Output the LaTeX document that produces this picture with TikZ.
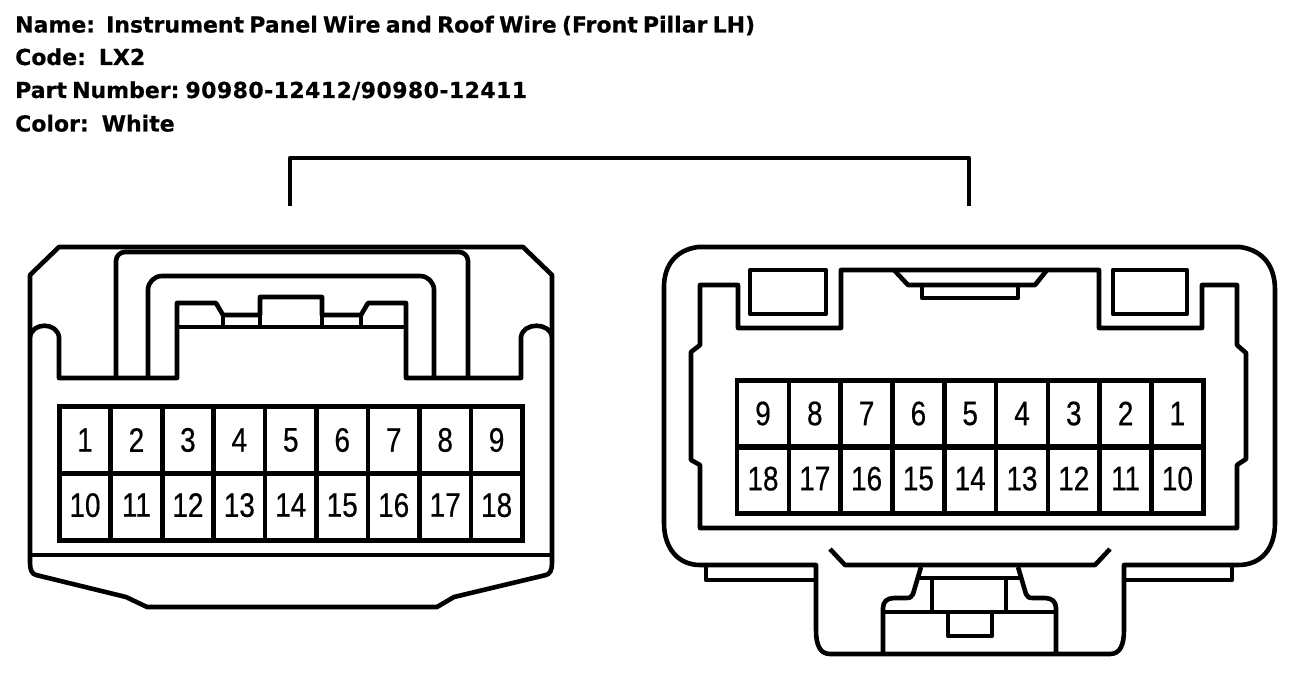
\documentclass[tikz,border=0pt]{standalone}
\usepackage{fontspec}
\setmainfont{DejaVu Sans}
\newfontfamily\pinfont[FakeStretch=0.82,FakeBold=0.5]{Liberation Sans}
\newfontfamily\infofont[FakeBold=0.5]{DejaVu Sans Bold}
\tikzset{
  part/.style={line width=4.6pt, line join=round},
  pinbox/.style={draw, line width=4.6pt, inner sep=0pt, minimum width=#1, minimum height=66.5pt,
    font=\fontsize{34}{34}\pinfont},
  lowrow/.style={text depth=4pt},
  infotext/.style={anchor=base west, inner sep=0pt, font={\fontsize{22}{22}\infofont\spaceskip=5.2pt\relax}}
}
\begin{document}
\begin{tikzpicture}[x=1pt,y=-1pt]
        \useasboundingbox (0,0) rectangle (1312,676);

        % header
        \node[infotext] (name) at (15,32.5) {Name:\hspace{11pt}Instrument Panel Wire and Roof Wire (Front Pillar LH)};
        \node[infotext] (code) at (15,65) {Code:\hspace{13pt}LX2};
        \node[infotext] (partno) at (15,98) {Part Number:\hspace{6pt}{\addfontfeatures{LetterSpace=1.9}90980-12412/90980-12411}};
        \node[infotext] (color) at (15,131.5) {Color:\hspace{13pt}White};

        % bracket between the two views
        \coordinate (bracketL) at (290,206);
        \coordinate (bracketR) at (969,206);
        \draw[part] (bracketL) -- ++(0,-48) -| (bracketR);

        % left connector
        \draw[part] (30,275) -- (59,247) -- (523,247) -- (552,275) -- (552,563)
          .. controls (552,570) and (550,574) .. (546,575) -- (454,597) -- (437,607) -- (147,607) -- (126,597)
          -- (36,575) .. controls (32,574) and (30,570) .. (30,563) -- cycle;
        \draw[part] (30,555) -- (552,555);
        \draw[part] (30,337) .. controls (32,322) and (57,322) .. (59,337) -- (59,378) -- (177,378) -- (177,303)
          -- (216,303) -- (223,315) -- (260,315) -- (260,297) -- (322,297) -- (322,315) -- (361,315) -- (368,303)
          -- (406,303) -- (406,378) -- (521,378) -- (521,337) .. controls (523,322) and (550,322) .. (552,337);
        \draw[part] (177,327) -- (406,327);
        \draw[part] (223,315) -- (223,327) (361,315) -- (361,327) (260,315) -- (260,327) (322,315) -- (322,327);
        \draw[part, rounded corners=9pt] (116,378) -- (116,252) -- (468,252) -- (468,378);
        \draw[part, rounded corners=14pt] (148,378) -- (148,276) -- (434,276) -- (434,378);
        \foreach \i in {1,...,9} {
          \node[pinbox=51.5pt] (L\i) at ({85+51.45*(\i-1)},440) {\i};
        }
        \foreach \i [evaluate=\i as \k using int(\i-9)] in {10,...,18} {
          \node[pinbox=51.5pt, lowrow] (L\i) at ({85+51.45*(\k-1)},507) {\i};
        }

        % right connector
        \draw[part] (698,247) -- (1240,247) .. controls (1262,250) and (1275,265) .. (1275,290) -- (1275,523)
          .. controls (1275,548) and (1262,565) .. (1238,565) -- (1124,565) -- (1124,630)
          .. controls (1124,645) and (1120,654) .. (1110,654) -- (830,654)
          .. controls (820,654) and (816,645) .. (816,630) -- (816,565) -- (700,565)
          .. controls (678,565) and (664,548) .. (664,523) -- (664,287)
          .. controls (664,265) and (676,250) .. (698,247) -- cycle;
        \draw[part] (706,565) -- (706,580) -- (816,580) (1232,565) -- (1232,580) -- (1124,580);
        \draw[part] (700,528) -- (700,465) -- (691,460) -- (691,352) -- (700,345) -- (700,285) -- (738,285)
          -- (738,328) -- (841,328) -- (841,270) -- (1099,270) -- (1099,328) -- (1202,328) -- (1202,285)
          -- (1237,285) -- (1237,345) -- (1246,353) -- (1246,459) -- (1237,465) -- (1237,528) -- cycle;
        \draw[part] (750,270) rectangle (826,314);
        \draw[part] (1113,270) rectangle (1187,314);
        \draw[part] (894,270) -- (908,285) -- (1035,285) -- (1047,270);
        \draw[part] (922,285) -- (922,298) -- (1018,298) -- (1018,285);
        \draw[part] (830,549) -- (845,565) -- (1095,565) -- (1110,549);
        \draw[part] (921,567) -- (913,594) .. controls (912,597) and (910,598) .. (906,598) -- (894,598)
          .. controls (887,598) and (883,602) .. (883,608) -- (883,654);
        \draw[part] (1018,567) -- (1026,594) .. controls (1027,597) and (1029,598) .. (1033,598) -- (1045,598)
          .. controls (1052,598) and (1056,602) .. (1056,608) -- (1056,654);
        \draw[part] (883,612) -- (1056,612);
        \draw[part] (919,578) -- (1020,578);
        \draw[part] (932,578) -- (932,612) (1006,578) -- (1006,612);
        \draw[part] (948,612) -- (948,636) -- (992,636) -- (992,612);
        \foreach \i [evaluate=\i as \k using int(10-\i)] in {1,...,9} {
          \node[pinbox=51.8pt] (R\i) at ({763+51.8*(\k-1)},413.5) {\i};
        }
        \foreach \i [evaluate=\i as \k using int(19-\i)] in {10,...,18} {
          \node[pinbox=51.8pt, lowrow] (R\i) at ({763+51.8*(\k-1)},480.5) {\i};
        }
\end{tikzpicture}
\end{document}
